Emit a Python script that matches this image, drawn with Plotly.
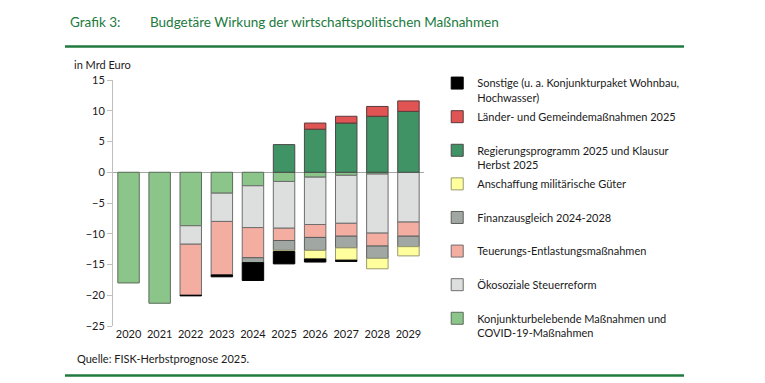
import plotly.graph_objects as go

years = ["2020", "2021", "2022", "2023", "2024", "2025", "2026", "2027", "2028", "2029"]

konjunktur = [-18.0, -21.3, -8.7, -3.4, -2.2, -1.5, -0.8, -0.5, -0.3, None]
oekosozial = [None, None, -3.0, -4.6, -6.8, -7.6, -7.7, -7.8, -9.6, -8.1]
teuerung = [None, None, -8.3, -8.7, -4.9, -2.0, -2.1, -2.1, -2.1, -2.3]
finanzausgleich = [None, None, None, None, -0.8, -1.6, -2.1, -1.9, -2.0, -1.7]
militaer = [None, None, None, None, None, -0.2, -1.4, -2.0, -1.7, -1.5]
regierung = [None, None, None, None, None, 4.5, 7.0, 8.0, 9.1, 9.9]
laender = [None, None, None, None, None, None, 1.0, 1.1, 1.6, 1.7]
sonstige = [None, None, -0.1, -0.3, -2.9, -2.0, -0.5, -0.2, None, None]

series = [
    ("Konjunkturbelebende Maßnahmen und<br>COVID-19-Maßnahmen", konjunktur, "#8cc58a", "#5a6b5a"),
    ("Ökosoziale Steuerreform<br> ", oekosozial, "#dcdfdd", "#6e6e6e"),
    ("Teuerungs-Entlastungsmaßnahmen<br> ", teuerung, "#f4ada1", "#6e6e6e"),
    ("Finanzausgleich 2024-2028<br> ", finanzausgleich, "#a1a8a3", "#5e5e5e"),
    ("Anschaffung militärische Güter<br> ", militaer, "#ffff9e", "#9a9a70"),
    ("Regierungsprogramm 2025 und Klausur<br>Herbst 2025", regierung, "#3f9364", "#4a4a4a"),
    ("Länder- und Gemeindemaßnahmen 2025<br> ", laender, "#e05454", "#5a3a3a"),
    ("Sonstige (u. a. Konjunkturpaket Wohnbau,<br>Hochwasser)", sonstige, "#000000", "#000000"),
]

FONT = "Lato"
GREEN = "#217a3e"

fig = go.Figure()
n = len(series)
for i, (name, vals, col, lcol) in enumerate(series):
    fig.add_trace(go.Bar(
        x=years, y=vals, name=name, legendgroup=f"g{i}", legendrank=n - i,
        marker=dict(color=col, line=dict(color=lcol, width=1)),
    ))

fig.update_layout(
    width=765, height=383,
    margin=dict(l=113, r=341, t=80, b=57, autoexpand=False),
    barmode="relative", bargap=0.31,
    plot_bgcolor="white", paper_bgcolor="white",
    font=dict(family=FONT, size=11, color="#1a1a1a"),
    showlegend=True,
    legend=dict(
        x=1.0425, y=1.043, xanchor="left", yanchor="top",
        traceorder="grouped", valign="top",
        font=dict(family=FONT, size=11, color="#1a1a1a"),
        bgcolor="rgba(0,0,0,0)", tracegroupgap=2, maxheight=330,
    ),
    xaxis=dict(showline=False, ticks="", showgrid=False,
               tickfont=dict(size=11)),
    yaxis=dict(range=[-25, 15], dtick=5, tickmode="linear",
               showgrid=False, zeroline=True, zerolinecolor="#a6a6a6", zerolinewidth=1,
               showline=True, linecolor="#bfbfbf", linewidth=1,
               ticks="outside", ticklen=5, tickcolor="#bfbfbf",
               tickfont=dict(size=11)),
)

fig.add_annotation(text="Grafik 3:", xref="paper", yref="paper", x=(68-113)/311, y=1 + (80-22)/246,
                   xanchor="left", yanchor="middle", showarrow=False,
                   font=dict(family=FONT, size=13.5, color=GREEN))
fig.add_annotation(text="Budgetäre Wirkung der wirtschaftspolitischen Maßnahmen", xref="paper", yref="paper",
                   x=(148-113)/311, y=1 + (80-22)/246, xanchor="left", yanchor="middle", showarrow=False,
                   font=dict(family=FONT, size=13.5, color=GREEN))
fig.add_annotation(text="in Mrd Euro", xref="paper", yref="paper", x=(72-113)/311, y=1 + (80-65)/246,
                   xanchor="left", yanchor="middle", showarrow=False, font=dict(family=FONT, size=11))
fig.add_annotation(text="Quelle: FISK-Herbstprognose 2025.", xref="paper", yref="paper",
                   x=(75-113)/311, y=-(358-326)/246, xanchor="left", yanchor="middle", showarrow=False,
                   font=dict(family=FONT, size=11))

for yy in (46.5, 375.5):
    fig.add_shape(type="line", xref="paper", yref="paper",
                  x0=(65-113)/311, x1=(684-113)/311, y0=1 - (yy-80)/246, y1=1 - (yy-80)/246,
                  line=dict(color=GREEN, width=2.5))

fig.write_html("out.html", config={"displayModeBar": False},
               post_script="document.body.style.margin='0';")
